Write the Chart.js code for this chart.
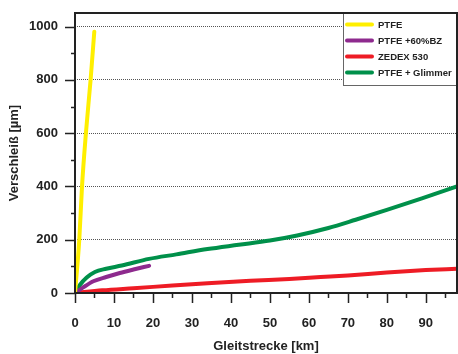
<!DOCTYPE html>
<html>
<head>
<meta charset="utf-8">
<script src="https://cdn.jsdelivr.net/npm/chart.js@4/dist/chart.umd.min.js"></script>
<style>
  html, body { margin: 0; padding: 0; background: #fff; }
  canvas { display: block; }
</style>
</head>
<body>
<canvas id="c" width="458" height="354"></canvas>
<script>
// Wear (µm) against sliding distance (km) for four bearing materials
const seriesNames  = ['PTFE', 'PTFE +60%BZ', 'ZEDEX 530', 'PTFE + Glimmer'];
const seriesColors = ['#FFEF00', '#8E2A8E', '#EE1C25', '#00904A'];

const ptfeKm      = [0, 1.1, 1.8, 2.8, 4.0, 4.95];
const ptfeWear    = [0, 200, 400, 600, 800, 981];

const bzKm        = [0, 2, 4.7, 8, 11.5, 15, 19];
const bzWear      = [0, 20, 44, 60, 75, 88, 102];

const zedexKm     = [0, 7, 15, 25, 34, 45, 55, 63, 70, 80, 90, 98];
const zedexWear   = [0, 10, 18, 28, 37, 46, 53, 60, 66, 77, 86, 91];

const glimmerKm   = [0, 1.3, 3, 5.1, 8, 12, 19, 26, 34, 42, 50, 57, 65, 72, 80, 89, 98];
const glimmerWear = [0, 31, 58, 79, 91, 103, 128, 145, 165, 181, 197, 216, 244, 275, 312, 355, 400];

// Axis ticks: labelled majors and unlabelled minors
const xMajorTicks = [0, 10, 20, 30, 40, 50, 60, 70, 80, 90];
const xMinorTicks = [5, 15, 25, 35, 45, 55, 65, 75, 85, 95];
const yMajorTicks = [0, 200, 400, 600, 800, 1000];
const yMinorTicks = [100, 300, 500, 700, 900];

const xTitle = 'Gleitstrecke [km]';
const yTitle = 'Verschleiß [µm]';

const FONT = "'Liberation Sans', Arial, sans-serif";

function toPoints(xs, ys) {
  return xs.map((x, i) => ({ x: x, y: ys[i] }));
}

const seriesData = [
  toPoints(ptfeKm, ptfeWear),
  toPoints(bzKm, bzWear),
  toPoints(zedexKm, zedexWear),
  toPoints(glimmerKm, glimmerWear)
];

// Fixed axis sizes; no extra edge padding from the tick labels
function fixAxis(size, horizontal) {
  return scale => {
    if (horizontal) scale.height = size; else scale.width = size;
    scale.paddingTop = 0;
    scale.paddingBottom = 0;
    scale.paddingLeft = 0;
    scale.paddingRight = 0;
  };
}

// Frame, outward tick marks and the boxed legend
const decorations = {
  id: 'decorations',
  afterDatasetsDraw(chart) {
    const ctx = chart.ctx;
    const area = chart.chartArea;
    const xs = chart.scales.x;
    const ys = chart.scales.y;
    ctx.save();
    ctx.strokeStyle = '#222';
    ctx.lineWidth = 1.5;
    ctx.beginPath();
    xs.ticks.forEach(t => {
      const px = Math.round(xs.getPixelForValue(t.value)) + 0.5;
      const len = xMajorTicks.includes(t.value) ? 10 : 5;
      ctx.moveTo(px, area.bottom);
      ctx.lineTo(px, area.bottom + len);
    });
    ys.ticks.forEach(t => {
      const py = Math.round(ys.getPixelForValue(t.value)) + 0.5;
      const len = yMajorTicks.includes(t.value) ? 10 : 4;
      ctx.moveTo(area.left, py);
      ctx.lineTo(area.left - len, py);
    });
    ctx.stroke();

    // legend box
    const boxL = area.right - 114;
    const boxT = area.top;
    const boxB = area.top + 72;
    ctx.fillStyle = '#fff';
    ctx.fillRect(boxL, boxT, area.right - boxL, boxB - boxT);
    ctx.strokeStyle = '#666';
    ctx.lineWidth = 1;
    ctx.strokeRect(boxL + 0.5, boxT + 0.5, area.right - boxL, boxB - boxT);
    ctx.font = "bold 9.5px " + FONT;
    ctx.textBaseline = 'middle';
    ctx.textAlign = 'left';
    chart.data.datasets.forEach((ds, i) => {
      const y = boxT + 11.5 + i * 16;
      ctx.strokeStyle = ds.borderColor;
      ctx.lineWidth = 4;
      ctx.lineCap = 'round';
      ctx.beginPath();
      ctx.moveTo(boxL + 4, y);
      ctx.lineTo(boxL + 29, y);
      ctx.stroke();
      ctx.fillStyle = '#222';
      ctx.fillText(ds.label, boxL + 35, y + 0.5);
    });

    // plot frame
    ctx.strokeStyle = '#222';
    ctx.lineWidth = 2;
    ctx.lineCap = 'butt';
    ctx.strokeRect(area.left, area.top, area.right - area.left, area.bottom - area.top);
    ctx.restore();
  }
};

new Chart(document.getElementById('c'), {
  type: 'line',
  data: {
    datasets: seriesNames.map((name, i) => ({
      label: name,
      data: seriesData[i],
      borderColor: seriesColors[i],
      backgroundColor: seriesColors[i],
      borderWidth: 4,
      pointRadius: 0,
      cubicInterpolationMode: 'monotone',
      borderCapStyle: 'round',
      borderJoinStyle: 'round',
      fill: false
    }))
  },
  options: {
    responsive: false,
    animation: false,
    devicePixelRatio: 1,
    layout: { padding: { left: 7, top: 13, right: 1, bottom: 0 } },
    plugins: {
      legend: { display: false },
      tooltip: { enabled: false }
    },
    scales: {
      x: {
        type: 'linear',
        min: 0,
        max: 98,
        afterBuildTicks(scale) {
          scale.ticks = xMajorTicks.concat(xMinorTicks).sort((a, b) => a - b).map(v => ({ value: v }));
        },
        afterFit: fixAxis(61, true),
        ticks: {
          autoSkip: false,
          maxRotation: 0,
          padding: 23,
          color: '#222',
          font: { family: FONT, size: 13, weight: 'bold' },
          callback: v => xMajorTicks.includes(v) ? String(v) : ''
        },
        grid: { display: true, drawTicks: false, drawOnChartArea: false },
        border: { display: false },
        title: {
          display: true,
          text: xTitle,
          color: '#222',
          font: { family: FONT, size: 13, weight: 'bold' },
          padding: { top: 8, bottom: 0 }
        }
      },
      y: {
        type: 'linear',
        min: 0,
        max: 1051,
        afterBuildTicks(scale) {
          scale.ticks = yMajorTicks.concat(yMinorTicks).sort((a, b) => a - b).map(v => ({ value: v }));
        },
        afterFit: fixAxis(68, false),
        ticks: {
          autoSkip: false,
          padding: 17,
          color: '#222',
          font: { family: FONT, size: 13, weight: 'bold' },
          callback: v => yMajorTicks.includes(v) ? String(v) : ''
        },
        grid: {
          drawTicks: false,
          lineWidth: 1,
          color: c => (c.tick && c.tick.value > 0 && yMajorTicks.includes(c.tick.value)) ? '#555' : 'rgba(0,0,0,0)'
        },
        border: { display: false, dash: [1, 1] },
        title: {
          display: true,
          text: yTitle,
          color: '#222',
          font: { family: FONT, size: 13, weight: 'bold' },
          padding: { top: 0, bottom: 8 }
        }
      }
    }
  },
  plugins: [decorations]
});
</script>
</body>
</html>
